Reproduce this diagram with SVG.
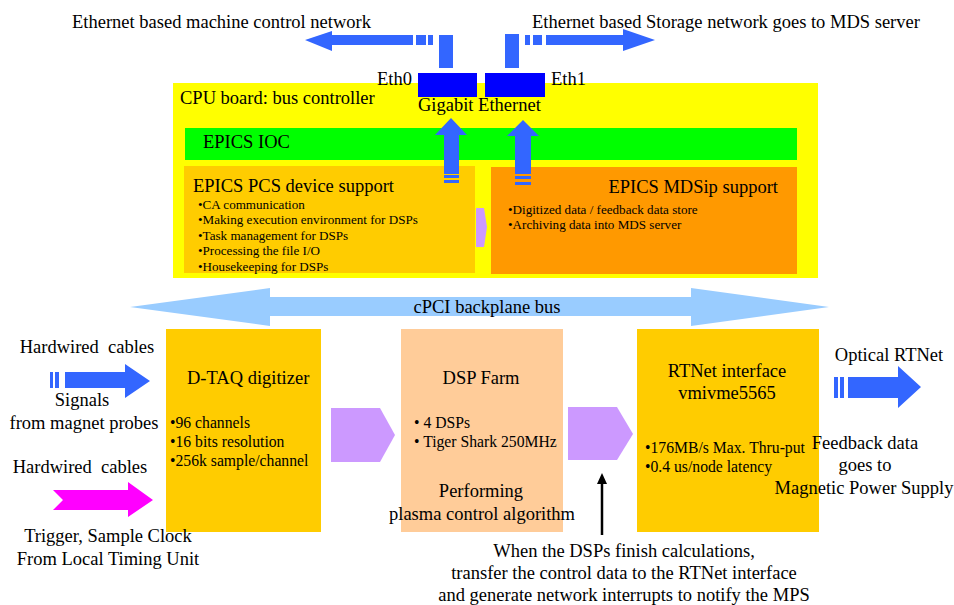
<svg xmlns="http://www.w3.org/2000/svg" width="954" height="605" viewBox="0 0 954 605">
<style>
text{font-family:"Liberation Serif","Times New Roman",serif;fill:#000}
.t18{font-size:18.5px}
.t17{font-size:18.5px}
.t15{font-size:15.7px}
.t13{font-size:13.1px}
.mid{text-anchor:middle}
.blue{fill:#3366ff}
.purple{fill:#cc99ff}
</style>
<rect width="954" height="605" fill="#fff"/>

<g id="top-labels">
<text class="t18" x="72" y="28">Ethernet based machine control network</text>
<text class="t18" x="532" y="28">Ethernet based Storage network goes to MDS server</text>
</g>

<g id="cpu-board">
<rect x="173" y="83" width="645" height="195" fill="#ffff00"/>
<text class="t18" x="180" y="104">CPU board: bus controller</text>
</g>

<g id="eth0">
<rect x="418" y="73" width="59" height="24" fill="#0000ff"/>
<text class="t18" x="377" y="85">Eth0</text>
</g>
<g id="eth1">
<rect x="485" y="73" width="60" height="24" fill="#0000ff"/>
<text class="t18" x="551" y="85">Eth1</text>
</g>
<text class="t18" x="418" y="111">Gigabit Ethernet</text>

<g id="epics-ioc">
<rect x="185" y="128" width="612" height="32" fill="#00ff00"/>
<text class="t18" x="203" y="148">EPICS IOC</text>
</g>

<g id="pcs-support">
<rect x="184" y="166" width="291" height="107" fill="#ffcc00"/>
<text class="t18" x="193" y="192">EPICS PCS device support</text>
<text class="t13" x="198" y="209">•CA communication</text>
<text class="t13" x="198" y="224">•Making execution environment for DSPs</text>
<text class="t13" x="198" y="240">•Task management for DSPs</text>
<text class="t13" x="198" y="255">•Processing the file I/O</text>
<text class="t13" x="198" y="271">•Housekeeping for DSPs</text>
</g>

<g id="mdsip-support">
<rect x="491" y="167" width="306" height="107" fill="#ff9900"/>
<text class="t18" x="778" y="193" text-anchor="end">EPICS MDSip support</text>
<text class="t13" x="508" y="214">•Digitized data / feedback data store</text>
<text class="t13" x="508" y="229">•Archiving data into MDS server</text>
</g>

<g id="dtaq">
<rect x="166" y="329" width="155" height="203" fill="#ffcc00"/>
<text class="t18" x="187" y="384">D-TAQ digitizer</text>
<text class="t15" x="170" y="428">•96 channels</text>
<text class="t15" x="170" y="447">•16 bits resolution</text>
<text class="t15" x="170" y="466">•256k sample/channel</text>
</g>

<g id="dsp-farm">
<rect x="401" y="329" width="162" height="203" fill="#ffcc99"/>
<text class="t18 mid" x="481" y="384">DSP Farm</text>
<text class="t15" x="414" y="428">• 4 DSPs</text>
<text class="t15" x="414" y="447">• Tiger Shark 250MHz</text>
<text class="t17 mid" x="481" y="497">Performing</text>
<text class="t17 mid" x="482" y="520">plasma control algorithm</text>
</g>

<g id="rtnet">
<rect x="637" y="329" width="182" height="203" fill="#ffcc00"/>
<text class="t18 mid" x="727" y="377">RTNet interface</text>
<text class="t18 mid" x="727" y="399">vmivme5565</text>
<text class="t15" x="645" y="453">•176MB/s Max. Thru-put</text>
<text class="t15" x="645" y="472">•0.4 us/node latency</text>
</g>

<g id="connectors">
<polygon class="blue" points="413,35 332,35 332,31 305,40 332,51 332,45 413,45"/>
<rect class="blue" x="416" y="35" width="10" height="10"/>
<rect class="blue" x="428" y="35" width="5" height="10"/>
<rect class="blue" x="439" y="35" width="14" height="33"/>
<rect class="blue" x="505" y="34" width="14" height="34"/>
<rect class="blue" x="525" y="35" width="5" height="10"/>
<rect class="blue" x="533" y="35" width="9" height="10"/>
<polygon class="blue" points="546,35 623,35 623,29 655,40 623,51 623,45 546,45"/>
<polygon class="blue" points="444,174 444,135 435,135 451,118 467,135 459,135 459,174"/>
<rect class="blue" x="444" y="175" width="15" height="3"/>
<rect class="blue" x="444" y="180" width="15" height="3"/>
<polygon class="blue" points="515,174 515,136 507,136 523,120 539,136 531,136 531,174"/>
<rect class="blue" x="515" y="176" width="16" height="3"/>
<rect class="blue" x="515" y="182" width="16" height="3"/>
<polygon class="purple" points="476,208 484,208 487,227 484,247 476,247"/>
<polygon fill="#99ccff" points="130,307 270,288 270,297 691,297 691,288 829,307 691,326 691,316 270,316 270,326"/>
<text class="t18 mid" x="487" y="313">cPCI backplane bus</text>
<polygon class="purple" points="331,408 380,408 395,435 380,462 331,462"/>
<polygon class="purple" points="568,407 617,407 633,434 617,460 568,460"/>
<rect class="blue" x="50" y="372" width="3" height="16"/>
<rect class="blue" x="55" y="372" width="4" height="16"/>
<polygon class="blue" points="65,372 125,372 125,364 150,381 125,398 125,388 65,388"/>
<polygon fill="#ff00ff" points="53,490 128,490 128,482 153,500 128,517 128,510 53,510 63,500"/>
<rect class="blue" x="834" y="377" width="4" height="21"/>
<rect class="blue" x="840" y="377" width="4" height="21"/>
<polygon class="blue" points="848,377 898,377 898,366 921,387 898,408 898,398 848,398"/>
<line x1="602" y1="535" x2="602" y2="482" stroke="#000" stroke-width="2.5"/>
<polygon points="597,484 602,473 607,484" fill="#000"/>
</g>

<g id="side-labels">
<text class="t17 mid" x="87" y="353">Hardwired&#160; cables</text>
<text class="t17 mid" x="82" y="406">Signals</text>
<text class="t17 mid" x="84" y="429">from magnet probes</text>
<text class="t17 mid" x="80" y="473">Hardwired&#160; cables</text>
<text class="t17 mid" x="108" y="542">Trigger, Sample Clock</text>
<text class="t17 mid" x="108" y="565">From Local Timing Unit</text>
<text class="t17 mid" x="889" y="361">Optical RTNet</text>
<text class="t17 mid" x="865" y="449">Feedback data</text>
<text class="t17 mid" x="865" y="471">goes to</text>
<text class="t17 mid" x="864" y="494">Magnetic Power Supply</text>
<text class="t17 mid" x="624" y="557">When the DSPs finish calculations,</text>
<text class="t17 mid" x="624" y="579">transfer the control data to the RTNet interface</text>
<text class="t17 mid" x="624" y="601">and generate network interrupts to notify the MPS</text>
</g>
</svg>
